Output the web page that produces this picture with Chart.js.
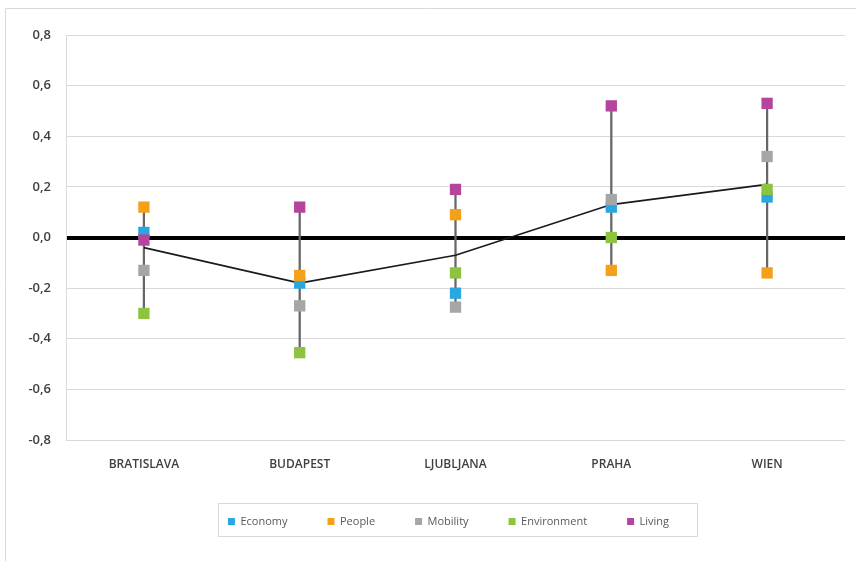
<!DOCTYPE html>
<html>
<head>
<meta charset="utf-8">
<script src="https://cdn.jsdelivr.net/npm/chart.js@4.4.1/dist/chart.umd.min.js"></script>
<style>
html,body{margin:0;padding:0;background:#fff;}
#wrap{width:856px;height:561px;position:relative;}
</style>
</head>
<body>
<div id="wrap"><canvas id="c" width="856" height="561"></canvas></div>
<script>
const categories = ['BRATISLAVA', 'BUDAPEST', 'LJUBLJANA', 'PRAHA', 'WIEN'];
const economy     = [0.02, -0.18, -0.22, 0.12, 0.16];
const people      = [0.12, -0.15, 0.09, -0.13, -0.14];
const mobility    = [-0.13, -0.27, -0.275, 0.15, 0.32];
const environment = [-0.30, -0.455, -0.14, 0.00, 0.19];
const living      = [-0.01, 0.12, 0.19, 0.52, 0.53];
const average     = [-0.04, -0.18, -0.07, 0.13, 0.21];
const yTicks = [-0.8, -0.6, -0.4, -0.2, 0.0, 0.2, 0.4, 0.6, 0.8];

const seriesNames = ['Economy', 'People', 'Mobility', 'Environment', 'Living'];
const seriesData = [economy, people, mobility, environment, living];
const seriesColors = ['#29a8e0', '#f5a01a', '#a6a6a6', '#8cc43f', '#b5459c'];

const ranges = categories.map((_, i) => {
  const vals = seriesData.map(s => s[i]);
  return [Math.min(...vals), Math.max(...vals)];
});

const FONT = '"Open Sans", Lato, sans-serif';
const LEGEND_PAD = 40;
const LEGEND_SHIFT = 26;

const datasets = seriesNames.map((name, k) => ({
  type: 'line',
  label: name,
  data: seriesData[k],
  showLine: false,
  pointStyle: 'rect',
  pointRadius: 8,
  pointHoverRadius: 8,
  pointBorderWidth: 0,
  borderWidth: 0,
  backgroundColor: seriesColors[k],
  borderColor: seriesColors[k],
  pointBackgroundColor: seriesColors[k],
  order: 5 - k
}));
datasets.push({
  type: 'line',
  label: 'Average',
  data: average,
  borderColor: '#1a1a1a',
  borderWidth: 1.6,
  pointRadius: 0,
  fill: false,
  tension: 0,
  order: 8
});
datasets.push({
  type: 'bar',
  label: 'Range',
  data: ranges,
  backgroundColor: '#666666',
  borderWidth: 0,
  barThickness: 1.6,
  order: 10
});

const framePlugin = {
  id: 'frame',
  beforeDraw(chart) {
    const ctx = chart.ctx;
    ctx.save();
    ctx.fillStyle = '#fff';
    ctx.fillRect(0, 0, chart.width, chart.height);
    ctx.strokeStyle = '#d9d9d9';
    ctx.lineWidth = 1;
    ctx.beginPath();
    ctx.moveTo(5.5, chart.height);
    ctx.lineTo(5.5, 8.5);
    ctx.lineTo(chart.width, 8.5);
    ctx.stroke();
    ctx.restore();
  },
  afterLayout(chart) {
    const lg = chart.legend;
    if (lg) { lg.left += 2 * LEGEND_SHIFT; }
  },
  afterDraw(chart) {
    const lg = chart.legend;
    if (!lg || !lg.legendHitBoxes || !lg.legendHitBoxes.length) return;
    const hb = lg.legendHitBoxes;
    const first = hb[0], last = hb[hb.length - 1];
    const cy = first.top + first.height / 2;
    const x0 = first.left - 10, x1 = last.left + last.width + 28;
    const ctx = chart.ctx;
    ctx.save();
    ctx.strokeStyle = '#d9d9d9';
    ctx.lineWidth = 1;
    ctx.strokeRect(Math.round(x0) + 0.5, Math.round(cy - 19) + 0.5, Math.round(x1 - x0), 33);
    ctx.restore();
  }
};

new Chart(document.getElementById('c'), {
  type: 'line',
  data: { labels: categories, datasets },
  plugins: [framePlugin],
  options: {
    responsive: false,
    animation: false,
    layout: { padding: { left: 0, right: 11, top: 35, bottom: 24 } },
    plugins: {
      tooltip: { enabled: false },
      legend: {
        position: 'bottom',
        labels: {
          boxWidth: 7,
          boxHeight: 7,
          padding: LEGEND_PAD,
          color: '#595959',
          font: { family: FONT, size: 11 },
          filter: (item) => seriesNames.includes(item.text),
          sort: (a, b) => a.datasetIndex - b.datasetIndex
        }
      }
    },
    scales: {
      x: {
        offset: true,
        grid: { display: false },
        border: { display: false },
        ticks: {
          color: '#404040',
          padding: 9,
          font: { family: FONT, size: 12, weight: '600' }
        },
        afterFit(scale) { scale.height = 76 - LEGEND_PAD; }
      },
      y: {
        min: -0.8,
        max: 0.8,
        afterBuildTicks(scale) { scale.ticks = yTicks.map(v => ({ value: v })); },
        grid: {
          color: (c) => (c.tick && Math.abs(c.tick.value) < 1e-9) ? '#000000' : '#d9d9d9',
          lineWidth: (c) => (c.tick && Math.abs(c.tick.value) < 1e-9) ? 4 : 1,
          drawTicks: false
        },
        border: { display: true, color: '#d9d9d9', width: 1 },
        ticks: {
          color: '#404040',
          padding: 15,
          font: { family: FONT, size: 13, weight: '600' },
          callback: (v) => Number(v).toFixed(1).replace('.', ',')
        },
        afterFit(scale) { scale.width = 66; }
      }
    }
  }
});
</script>
</body>
</html>
